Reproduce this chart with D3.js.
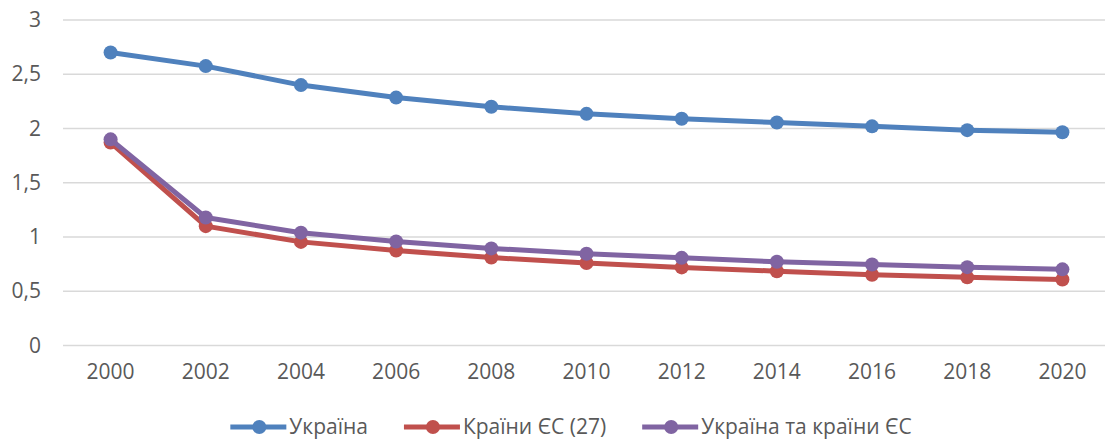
<!DOCTYPE html>
<html>
<head>
<meta charset="utf-8">
<script src="https://cdn.jsdelivr.net/npm/d3@7"></script>
<style>
  body { margin: 0; background: #fff; }
  text { font-family: "Open Sans", sans-serif; fill: #595959; }
</style>
</head>
<body>
<script>
const years = ["2000", "2002", "2004", "2006", "2008", "2010", "2012", "2014", "2016", "2018", "2020"];
const ukraine = [2.70, 2.575, 2.40, 2.285, 2.20, 2.135, 2.09, 2.055, 2.02, 1.985, 1.965];
const eu27 = [1.87, 1.10, 0.955, 0.875, 0.81, 0.76, 0.72, 0.685, 0.652, 0.628, 0.608];
const ukraineEu = [1.90, 1.18, 1.04, 0.958, 0.895, 0.845, 0.808, 0.772, 0.747, 0.722, 0.702];
const yTicks = [0, 0.5, 1, 1.5, 2, 2.5, 3];
const seriesNames = ["Україна", "Країни ЄС (27)", "Україна та країни ЄС"];
const seriesColors = ["#4f81bd", "#c0504d", "#8064a2"];

const width = 1105, height = 441;
const svg = d3.select('body').append('svg')
    .attr('width', width)
    .attr('height', height);

const x = d3.scaleBand().domain(years).range([63, 1110]);
const y = d3.scaleLinear().domain([0, 3]).range([345.5, 20]);
const fmt = d => String(d).replace('.', ',');

// gridlines
svg.append('g').selectAll('line')
    .data(yTicks)
    .enter().append('line')
    .attr('x1', 63).attr('x2', width)
    .attr('y1', d => y(d)).attr('y2', d => y(d))
    .style('stroke', '#d9d9d9')
    .style('stroke-width', 1.5);

// y axis labels
const yAxis = svg.append('g')
    .attr('transform', 'translate(49,0)')
    .call(d3.axisLeft(y).tickValues(yTicks).tickFormat(fmt).tickSize(0).tickPadding(8));
yAxis.select('.domain').remove();
yAxis.selectAll('text').style('font-size', '21px').attr('fill', '#595959');

// x axis labels
const xAxis = svg.append('g')
    .attr('transform', 'translate(0,350)')
    .call(d3.axisBottom(x).tickSize(0).tickPadding(14));
xAxis.select('.domain').remove();
xAxis.selectAll('text').style('font-size', '21px').attr('fill', '#595959');

const allSeries = [ukraine, eu27, ukraineEu];
const line = d3.line()
    .x((d, i) => x(years[i]) + x.bandwidth() / 2)
    .y(d => y(d));

// blue, then red, then purple on top
[0, 1, 2].forEach(k => {
    const g = svg.append('g');
    g.append('path')
        .datum(allSeries[k])
        .attr('d', line)
        .style('fill', 'none')
        .style('stroke', seriesColors[k])
        .style('stroke-width', 5)
        .style('stroke-linejoin', 'round');
    g.selectAll('circle')
        .data(allSeries[k])
        .enter().append('circle')
        .attr('cx', (d, i) => x(years[i]) + x.bandwidth() / 2)
        .attr('cy', d => y(d))
        .attr('r', 7)
        .style('fill', seriesColors[k]);
});

// legend
const legend = svg.append('g').attr('transform', 'translate(0,427)');
const items = legend.selectAll('g')
    .data(seriesNames)
    .enter().append('g');
items.append('line')
    .attr('x1', 0).attr('x2', 56)
    .attr('y1', 0).attr('y2', 0)
    .style('stroke', (d, i) => seriesColors[i])
    .style('stroke-width', 5);
items.append('circle')
    .attr('cx', 29).attr('cy', 0).attr('r', 7)
    .style('fill', (d, i) => seriesColors[i]);
items.append('text')
    .attr('x', 59)
    .attr('dy', '0.33em')
    .style('font-size', '21px')
    .text(d => d);

let pos = 0;
const offsets = [];
items.each(function () {
    offsets.push(pos);
    pos += this.getBBox().width + 36;
});
const totalW = pos - 36;
const start = 571 - totalW / 2;
items.attr('transform', (d, i) => `translate(${start + offsets[i]},0)`);
</script>
</body>
</html>
